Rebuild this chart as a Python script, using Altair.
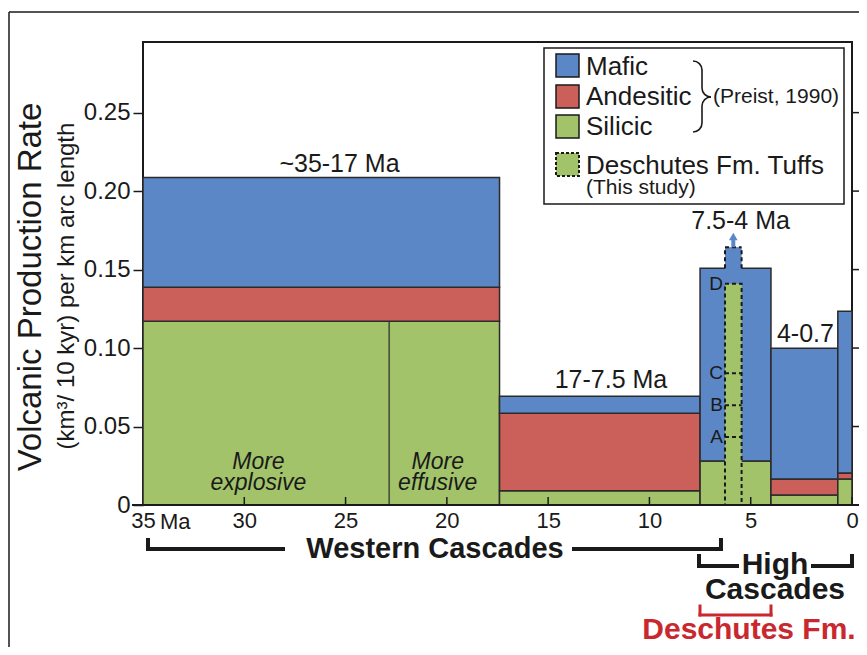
import math
import altair as alt
import pandas as pd

# ---------------- data ----------------
period_start = [35.0, 17.4, 7.5, 4.0, 0.7]
period_end = [17.4, 7.5, 4.0, 0.7, 0.0]
silicic = [0.117, 0.009, 0.028, 0.0064, 0.0165]
andesitic = [0.0217, 0.0495, 0.0, 0.0101, 0.0039]
mafic = [0.0700, 0.0108, 0.1228, 0.0834, 0.1030]
compositions = ["Silicic", "Andesitic", "Mafic"]
comp_colors = ["#a2c36a", "#cb605b", "#5b87c6"]

period_labels = ["~35-17 Ma", "17-7.5 Ma", "7.5-4 Ma", "4-0.7"]
period_label_age = [25.3, 11.9, 5.5, 2.3]
period_label_rate = [0.2172, 0.0796, 0.1809, 0.1089]

style_split_age = 22.85
style_word1 = ["More", "More"]
style_word2 = ["explosive", "effusive"]
style_label_age = [29.3, 20.45]
style_label_rate = [0.0274, 0.0140]

tuff_age = [6.27, 5.45]
tuff_top = 0.141
tuff_sample_names = ["A", "B", "C", "D"]
tuff_sample_rates = [0.0433, 0.0636, 0.084, 0.141]
peak_rate = 0.1643
arrow_tip = 0.1737

x_ticks = [35, 30, 25, 20, 15, 10, 5, 0]
y_ticks = [0, 0.05, 0.10, 0.15, 0.20, 0.25]

FONT = "Liberation Sans"
INK = "#1a1a1a"
W, H = 709, 463

# ---------------- tables ----------------
rows = []
for i in range(len(period_start)):
    base = 0.0
    for comp, vals in zip(compositions, [silicic, andesitic, mafic]):
        v = vals[i]
        if v > 0:
            rows.append(dict(start=period_start[i], end=period_end[i], y0=base, y1=base + v, comp=comp))
            base += v
rect_df = pd.DataFrame(rows)

xs = alt.Scale(domain=[0, 35], reverse=True, nice=False, zero=False)
ys = alt.Scale(domain=[0, 0.295], nice=False, zero=False)
x_axis = alt.Axis(values=x_ticks, ticks=False, domain=False, grid=False, labelFontSize=22,
                  labelFont=FONT, labelColor=INK, labelPadding=5, title=None, labelFlush=False)
y_axis = alt.Axis(values=y_ticks, format=".2f", labelExpr="datum.value == 0 ? '0' : datum.label",
                  tickSize=10, tickWidth=1.5, tickColor=INK, domain=False, grid=False,
                  labelFontSize=24, labelFont=FONT, labelColor=INK, labelPadding=3, title=None,
                  labelFlush=False)
dummy = pd.DataFrame({"k": [0]})


def X(field):
    return alt.X(field, scale=xs, axis=x_axis)


def Y(field):
    return alt.Y(field, scale=ys, axis=y_axis)


def ptext(txt, x, y, size, align="center", weight="normal", color=INK, angle=None, style="normal"):
    kw = dict(text=txt, fontSize=size, align=align, baseline="middle", font=FONT,
              fontWeight=weight, color=color, fontStyle=style)
    if angle is not None:
        kw["angle"] = angle
    return alt.Chart(dummy).mark_text(**kw).encode(x=alt.value(x), y=alt.value(y))


def prule(x1, y1, x2, y2, color=INK, width=1.5, dash=None, cap="butt"):
    kw = dict(color=color, strokeWidth=width, strokeCap=cap)
    if dash:
        kw["strokeDash"] = dash
    return alt.Chart(dummy).mark_rule(**kw).encode(
        x=alt.value(x1), x2=alt.value(x2), y=alt.value(y1), y2=alt.value(y2))


def prect(x1, y1, x2, y2, fill, stroke=INK, width=1.5, dash=None):
    kw = dict(fill=fill, stroke=stroke, strokeWidth=width)
    if dash:
        kw["strokeDash"] = dash
    return alt.Chart(dummy).mark_rect(**kw).encode(
        x=alt.value(x1), x2=alt.value(x2), y=alt.value(y1), y2=alt.value(y2))


def parc(cx, cy, t1, t2, r=9):
    return alt.Chart(dummy).mark_arc(radius=r + 0.8, radius2=r - 0.8, theta=t1, theta2=t2,
                                     color=INK).encode(x=alt.value(cx), y=alt.value(cy))


layers = []

# main stacked rectangles
bars = alt.Chart(rect_df).mark_rect(stroke="#2a2a2a", strokeWidth=1.5).encode(
    x=X("start:Q"), x2="end:Q", y=Y("y0:Q"), y2="y1:Q",
    fill=alt.Fill("comp:N", scale=alt.Scale(domain=compositions, range=comp_colors), legend=None),
)
layers.append(bars)

# explosive / effusive divider
div_df = pd.DataFrame({"a": [style_split_age], "y0": [0.0], "y1": [silicic[0]]})
layers.append(alt.Chart(div_df).mark_rule(color="#2a2a2a", strokeWidth=1.2).encode(
    x=X("a:Q"), y=Y("y0:Q"), y2="y1:Q"))

# peak tab above the 7.5-4 Ma bar
top_of_bar = silicic[2] + mafic[2]
tab_df = pd.DataFrame({"a": [tuff_age[0]], "b": [tuff_age[1]],
                       "y0": [top_of_bar - 0.001], "y1": [peak_rate]})
layers.append(alt.Chart(tab_df).mark_rect(fill=comp_colors[2], strokeWidth=0).encode(
    x=X("a:Q"), x2="b:Q", y=Y("y0:Q"), y2="y1:Q"))

# Deschutes tuffs dashed column
tuff_df = pd.DataFrame({"a": [tuff_age[0]], "b": [tuff_age[1]], "y0": [0.0], "y1": [tuff_top]})
layers.append(alt.Chart(tuff_df).mark_rect(fill=comp_colors[0], stroke=INK, strokeWidth=2,
                                            strokeDash=[4, 3]).encode(
    x=X("a:Q"), x2="b:Q", y=Y("y0:Q"), y2="y1:Q"))

samp_df = pd.DataFrame({"a": [tuff_age[0]] * 3, "b": [tuff_age[1]] * 3, "r": tuff_sample_rates[:3]})
layers.append(alt.Chart(samp_df).mark_rule(color=INK, strokeWidth=2, strokeDash=[4, 3]).encode(
    x=X("a:Q"), x2="b:Q", y=Y("r:Q")))

# dashed outline of the tab
tabl_df = pd.DataFrame({"a": [tuff_age[0], tuff_age[1], tuff_age[0]],
                        "b": [tuff_age[0], tuff_age[1], tuff_age[1]],
                        "y0": [top_of_bar, top_of_bar, peak_rate],
                        "y1": [peak_rate, peak_rate, peak_rate]})
layers.append(alt.Chart(tabl_df).mark_rule(color=INK, strokeWidth=2, strokeDash=[4, 3]).encode(
    x=X("a:Q"), x2="b:Q", y=Y("y0:Q"), y2="y1:Q"))

# arrow
mid_age = (tuff_age[0] + tuff_age[1]) / 2
arr_df = pd.DataFrame({"a": [mid_age], "y0": [peak_rate], "y1": [arrow_tip - 0.0045]})
layers.append(alt.Chart(arr_df).mark_rule(color=comp_colors[2], strokeWidth=4).encode(
    x=X("a:Q"), y=Y("y0:Q"), y2="y1:Q"))
head_df = pd.DataFrame({"a": [mid_age], "y": [arrow_tip - 0.0026]})
layers.append(alt.Chart(head_df).mark_point(shape="triangle-up", filled=True, size=75,
                                            color=comp_colors[2], opacity=1).encode(
    x=X("a:Q"), y=Y("y:Q")))

# sample letters
let_df = pd.DataFrame({"a": [tuff_age[0]] * 4, "r": tuff_sample_rates, "t": tuff_sample_names})
layers.append(alt.Chart(let_df).mark_text(font=FONT, fontSize=19, align="right", dx=-2,
                                          color=INK).encode(
    x=X("a:Q"), y=Y("r:Q"), text="t:N"))

# period labels
per_df = pd.DataFrame({"a": period_label_age, "r": period_label_rate, "t": period_labels})
layers.append(alt.Chart(per_df).mark_text(font=FONT, fontSize=25, color=INK).encode(
    x=X("a:Q"), y=Y("r:Q"), text="t:N"))

# eruption-style labels
sty_df = pd.DataFrame({"a": style_label_age * 2,
                       "r": [style_label_rate[0]] * 2 + [style_label_rate[1]] * 2,
                       "t": style_word1 + style_word2})
layers.append(alt.Chart(sty_df).mark_text(font=FONT, fontSize=23, fontStyle="italic",
                                          color=INK).encode(
    x=X("a:Q"), y=Y("r:Q"), text="t:N"))

# inward x ticks
xt_df = pd.DataFrame({"v": x_ticks[1:]})
layers.append(alt.Chart(xt_df).mark_rule(color=INK, strokeWidth=1.5).encode(
    x=X("v:Q"), y=alt.value(H - 8), y2=alt.value(H)))

# right-hand outward ticks
yt_df = pd.DataFrame({"v": y_ticks[1:]})
layers.append(alt.Chart(yt_df).mark_rule(color=INK, strokeWidth=1.5).encode(
    y=Y("v:Q"), x=alt.value(W), x2=alt.value(W + 13)))

# x axis line
layers.append(prule(-11, H, W + 10, H, width=2))
layers.append(ptext("Ma", 17, H + 17, 22, align="left"))

# y axis titles
layers.append(ptext("Volcanic Production Rate", -112, 245, 33, angle=270))
layers.append(ptext("(km³/ 10 kyr) per km arc length", -76, 244, 24, angle=270))

# legend
layers.append(prect(401, 6, 701, 162, "white", width=1.5))
for (y1, y2), col, name, ty in zip([(12, 35), (43, 66), (73, 96)], comp_colors[::-1],
                                  compositions[::-1], [25, 55, 85]):
    layers.append(prect(413, y1, 436, y2, col, width=1.5))
    layers.append(ptext(name, 443, ty, 26, align="left"))
layers.append(prect(413, 111, 436, 134, comp_colors[0], width=2, dash=[3, 2]))
layers.append(ptext("Deschutes Fm. Tuffs", 443, 124, 26, align="left"))
layers.append(ptext("(This study)", 443, 146, 21, align="left"))
layers.append(ptext("(Preist, 1990)", 570, 55, 21, align="left"))
# brace
layers.append(parc(550, 28, 0, math.pi / 2))
layers.append(prule(559, 28, 559, 46, width=1.6))
layers.append(parc(568, 46, math.pi, 3 * math.pi / 2))
layers.append(parc(568, 64, 3 * math.pi / 2, 2 * math.pi))
layers.append(prule(559, 64, 559, 81, width=1.6))
layers.append(parc(550, 81, math.pi / 2, math.pi))

# bottom brackets and labels
layers.append(prule(5, 498, 5, 507, width=4, cap="square"))
layers.append(prule(5, 507, 140, 507, width=4, cap="square"))
layers.append(prule(431, 507, 578, 507, width=4, cap="square"))
layers.append(prule(578, 498, 578, 507, width=4, cap="square"))
layers.append(ptext("Western Cascades", 292, 507, 29, weight="bold"))

layers.append(prule(556, 514, 556, 524, width=4, cap="square"))
layers.append(prule(556, 524, 594, 524, width=4, cap="square"))
layers.append(prule(670, 524, 709, 524, width=4, cap="square"))
layers.append(prule(709, 514, 709, 524, width=4, cap="square"))
layers.append(ptext("High", 632, 523, 30, weight="bold"))
layers.append(ptext("Cascades", 632, 548, 30, weight="bold"))

RED = "#c8282e"
layers.append(prule(557, 564, 557, 573, color=RED, width=3, cap="square"))
layers.append(prule(557, 573, 628, 573, color=RED, width=3, cap="square"))
layers.append(prule(628, 564, 628, 573, color=RED, width=3, cap="square"))
layers.append(ptext("Deschutes Fm.", 606, 588, 30, weight="bold", color=RED))

# outer frame
layers.append(prule(-134, -30, 730, -30, width=1.5))
layers.append(prule(-134, -30, -134, 660, width=1.5))

chart = alt.layer(*layers).properties(
    width=W, height=H,
    padding={"left": 135, "top": 34, "right": 7, "bottom": 142},
    autosize=alt.AutoSizeParams(type="none"),
).configure_view(stroke=INK, strokeWidth=2)

chart.save("out.html", embed_options={"renderer": "svg", "actions": False})
